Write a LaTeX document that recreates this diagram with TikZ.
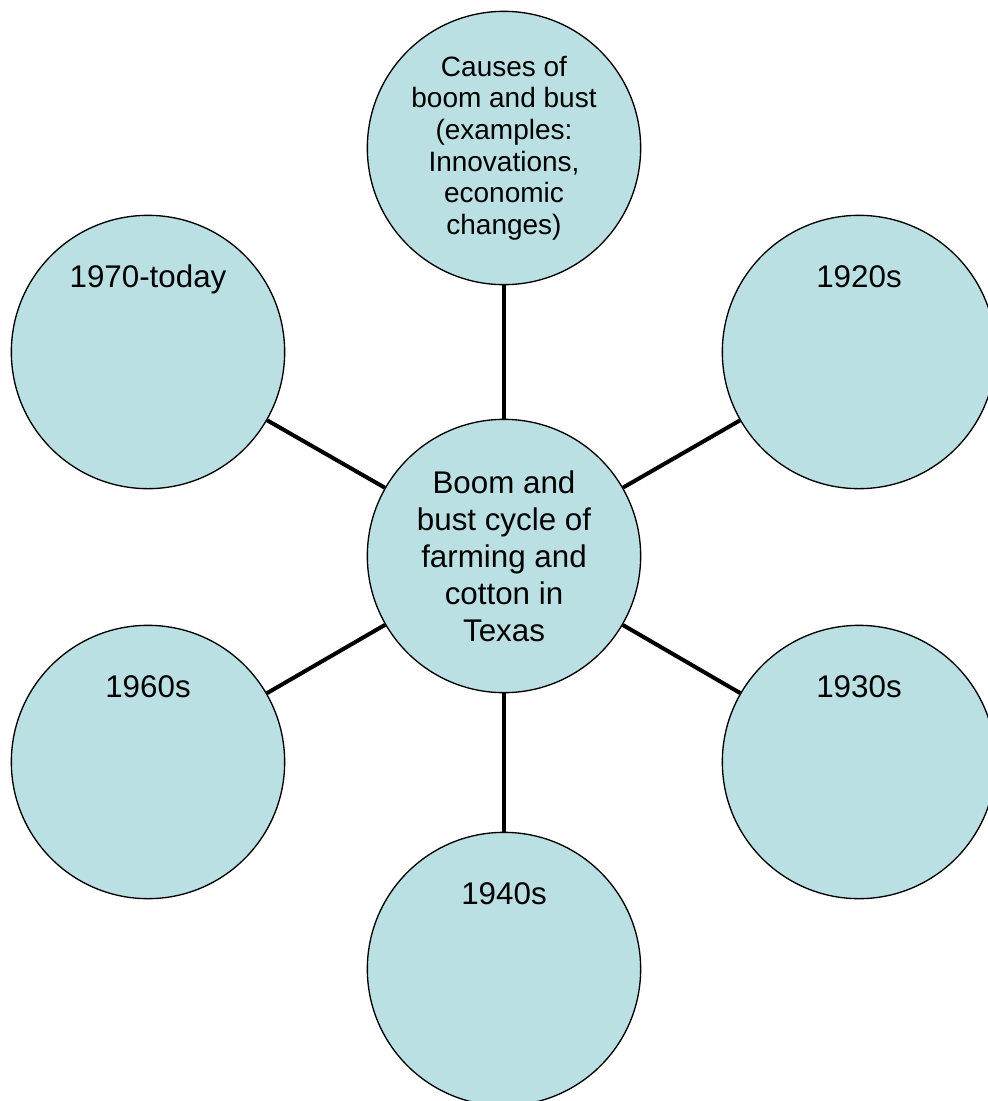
\documentclass[tikz,border=0pt]{standalone}
\usepackage{fontspec}
\setmainfont{Liberation Sans}
\definecolor{bubblefill}{RGB}{187,224,227}
\tikzset{every picture/.style={line width=0.75pt}}

\begin{document}
\begin{tikzpicture}[x=0.75pt,y=0.75pt,yscale=-1,xscale=1,
    bubble/.style={circle, draw, fill=bubblefill, line width=1, minimum size=205pt, inner sep=0pt, align=center},
    era/.style={bubble, label={[anchor=north, inner sep=0pt, yshift=-37.5pt, font=\fontsize{23.5}{28}\selectfont]north:#1}},
    spoke/.style={line width=3}]
    \useasboundingbox (0,0) rectangle (988,1101);

    % Hub
    \node [bubble, font=\fontsize{23.5}{27.75}\selectfont] (hub) at (504,556) {Boom and\\bust cycle of\\farming and\\cotton in\\Texas};
    % Causes
    \node [bubble, font=\fontsize{21}{23.7}\selectfont] (causes) at (504,148) {Causes of\\boom and bust\\(examples:\\Innovations,\\economic\\changes)};
    % Periods
    \node [era={1920s}] (y20) at (859,352) {};
    \node [era={1930s}] (y30) at (859,762) {};
    \node [era={1940s}] (y40) at (504,969) {};
    \node [era={1960s}] (y60) at (148,762) {};
    \node [era={1970-today}] (y70) at (148,352) {};

    % Spokes
    \draw [spoke] (hub) -- (causes);
    \draw [spoke] (hub) -- (y20);
    \draw [spoke] (hub) -- (y30);
    \draw [spoke] (hub) -- (y40);
    \draw [spoke] (hub) -- (y60);
    \draw [spoke] (hub) -- (y70);

\end{tikzpicture}
\end{document}
